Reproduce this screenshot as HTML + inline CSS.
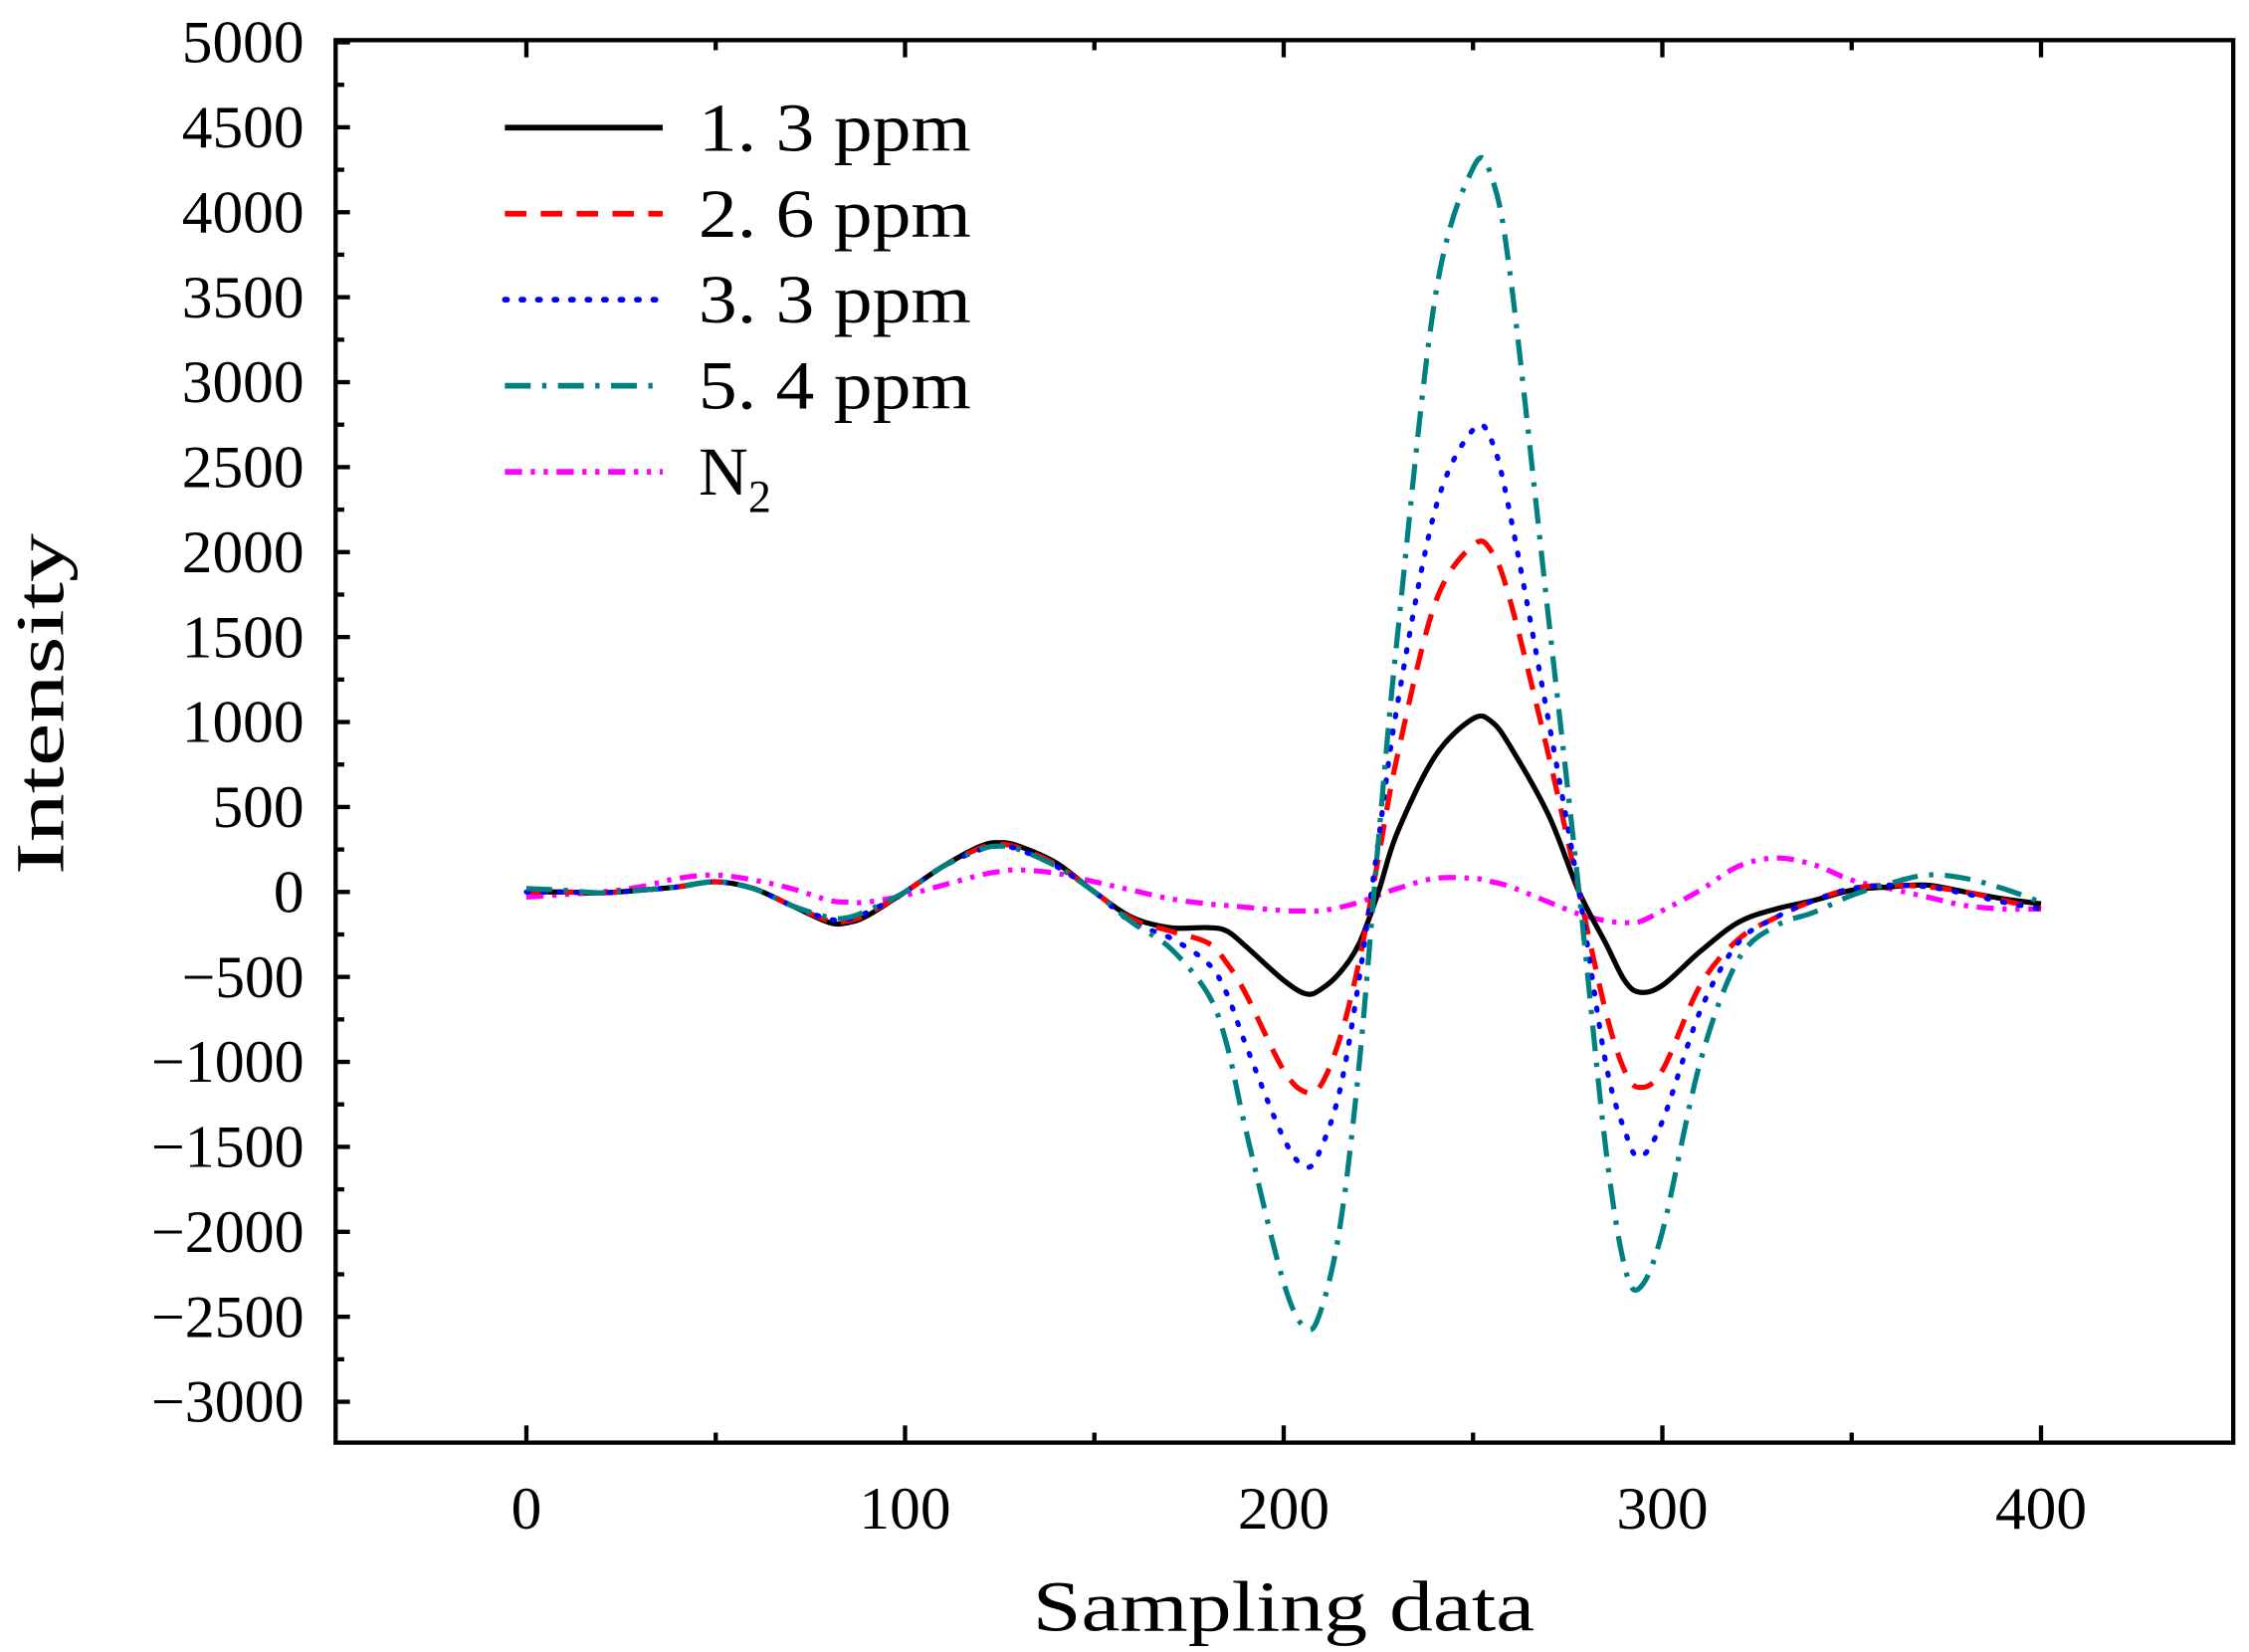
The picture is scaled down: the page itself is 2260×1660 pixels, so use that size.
<!DOCTYPE html>
<html><head><meta charset="utf-8"><style>html,body{margin:0;padding:0;background:#fff}svg{display:block}</style></head>
<body>
<svg id="chart" width="2260" height="1660" viewBox="0 0 1568 1152" preserveAspectRatio="none" xmlns="http://www.w3.org/2000/svg" font-family="'Liberation Serif','Noto Serif CJK SC',serif">
<g id="axes"></g><g id="series"></g><g id="legend"></g>
</svg>
<script>
const xs = [0,10,20,30,40,50,60,70,80,85,90,100,110,120,125,130,140,150,160,170,180,185,190,200,206,210,215,220,225,230,240,250,255,260,270,278,285,290,294,300,310,320,330,340,350,360,370,380,390,400];
const s13 = [0,0,-5,10,30,60,20,-80,-180,-180,-140,0,150,270,290,270,170,0,-150,-210,-210,-230,-320,-520,-600,-570,-470,-300,0,350,800,1020,1000,850,450,0,-300,-520,-590,-550,-350,-180,-100,-50,10,30,40,0,-40,-70];
const s26 = [0,0,-5,10,30,60,20,-80,-170,-170,-130,0,150,260,280,260,160,0,-160,-230,-300,-420,-600,-1050,-1180,-1130,-850,-400,200,800,1700,2040,2000,1700,800,0,-700,-1050,-1150,-1050,-550,-280,-150,-50,20,40,30,0,-50,-100];
const s33 = [0,0,-5,10,30,60,20,-80,-160,-160,-120,0,150,250,270,250,150,0,-180,-270,-420,-600,-900,-1450,-1620,-1500,-1150,-500,300,1100,2250,2720,2650,2200,1000,0,-1000,-1400,-1560,-1350,-700,-300,-150,-50,20,40,30,-10,-60,-100];
const s54 = [20,10,-5,10,30,60,20,-80,-150,-150,-110,0,150,250,270,250,150,0,-180,-330,-600,-900,-1400,-2300,-2570,-2450,-1950,-1000,300,1500,3500,4260,4200,3600,1600,0,-1500,-2200,-2330,-2000,-1000,-400,-200,-120,-20,50,100,80,20,-60];
const sN2 = [-30,-15,0,30,80,100,70,20,-50,-60,-60,-20,40,100,120,130,110,60,10,-40,-70,-80,-90,-110,-112,-110,-90,-60,-20,20,80,80,60,30,-60,-130,-170,-180,-175,-110,10,150,200,160,70,20,-30,-80,-100,-100];
const yTicks = [5000,4500,4000,3500,3000,2500,2000,1500,1000,500,0,-500,-1000,-1500,-2000,-2500,-3000];
const xTicks = [0,100,200,300,400];
const seriesNames = ["1. 3 ppm","2. 6 ppm","3. 3 ppm","5. 4 ppm","N2"];

const L=234,R=1557,T=28,B=1006;
const X = v => 367 + v*2.64;
const Y = v => 622 - v*0.1185;
const NS="http://www.w3.org/2000/svg";
function mk(tag, attrs, parent){const e=document.createElementNS(NS,tag);for(const k in attrs)e.setAttribute(k,attrs[k]);parent.appendChild(e);return e;}
const axes=document.getElementById('axes');
const frame=mk('rect',{x:L,y:T,width:R-L,height:B-T,fill:'none',stroke:'#000','stroke-width':3},axes);


for(let v=-3000;v<=5000;v+=250){
  const major=v%500===0, len=major?10:6, y=Y(v);
  const t=mk('line',{x1:L,x2:L+len,y1:y,y2:y,stroke:'#000','stroke-width':3},axes);
  
  
}
yTicks.forEach(v=>{
  const s=(v<0?'\u2212'+(-v):String(v));
  const w=s.length*21.3;
  const t=mk('text',{x:212,y:Y(v)+14,'text-anchor':'end','font-size':42,textLength:w,lengthAdjust:'spacingAndGlyphs'},axes);
  t.textContent=s;
  
  
});
for(let v=0;v<=400;v+=50){
  const major=v%100===0,len=major?12:7,x=X(v);
  const t=mk('line',{x1:x,x2:x,y1:B,y2:B-len,stroke:'#000','stroke-width':3},axes);
  
  
  const t2=mk('line',{x1:x,x2:x,y1:T,y2:T+len,stroke:'#000','stroke-width':3},axes);
  
  
}
xTicks.forEach(v=>{
  const s=String(v);
  const t=mk('text',{x:X(v),y:1066,'text-anchor':'middle','font-size':42,textLength:s.length*21.3,lengthAdjust:'spacingAndGlyphs'},axes);
  t.textContent=s;
  
  
});
const xt=mk('text',{x:895,y:1137,'text-anchor':'middle','font-size':50,textLength:350,lengthAdjust:'spacingAndGlyphs'},axes);
xt.textContent='Sampling data';


const yt=mk('text',{x:0,y:0,'text-anchor':'middle','font-size':48,textLength:238,lengthAdjust:'spacingAndGlyphs',transform:'translate(44,491) rotate(-90)'},axes);
yt.textContent='Intensity';



function pathFor(vals){
  const p=xs.map((x,i)=>[X(x),Y(vals[i])]);
  let d='M'+p[0][0]+','+p[0][1];
  for(let i=0;i<p.length-1;i++){
    const p0=p[Math.max(0,i-1)],p1=p[i],p2=p[i+1],p3=p[Math.min(p.length-1,i+2)];
    const c1=[p1[0]+(p2[0]-p0[0])/6,p1[1]+(p2[1]-p0[1])/6];
    const c2=[p2[0]-(p3[0]-p1[0])/6,p2[1]-(p3[1]-p1[1])/6];
    d+=' C'+c1.join(',')+' '+c2.join(',')+' '+p2.join(',');
  }
  return d;
}
const styles=[
  {c:'#000',da:'none',lc:'butt'},
  {c:'#ff0000',da:'15,10',lc:'butt'},
  {c:'#0000ff',da:'1.5,10',lc:'round'},
  {c:'#008080',da:'18,8,3,8',lc:'butt'},
  {c:'#ff00ff',da:'12,6,3,6,3,6',lc:'butt'}
];
const data=[s13,s26,s33,s54,sN2];
const names=['series-1-3-ppm','series-2-6-ppm','series-3-3-ppm','series-5-4-ppm','series-n2'];
const sg=document.getElementById('series');
[4,0,1,2,3].forEach(i=>{
  const st=styles[i];
  const p=mk('path',{d:pathFor(data[i]),fill:'none',stroke:st.c,'stroke-width':3.6,'stroke-dasharray':st.da,'stroke-linecap':st.lc,'stroke-linejoin':'round'},sg);
  
  
});
const lg=document.getElementById('legend');
seriesNames.forEach((n,i)=>{
  const y=89+i*60, st=styles[i];
  const ln=mk('line',{x1:352,x2:462,y1:y,y2:y,stroke:st.c,'stroke-width':4,'stroke-dasharray':st.da,'stroke-linecap':st.lc},lg);
  
  
  const t=mk('text',{x:487,y:y+16,'font-size':48},lg);
  t.setAttribute('xml:space','preserve');
  if(n==='N2'){
    t.textContent='N';
    const sub=mk('tspan',{'font-size':32,dy:12},t);
    sub.textContent='2';
  } else {
    t.textContent=n.replace(' ppm','  ppm');
    t.setAttribute('textLength',190);
    t.setAttribute('lengthAdjust','spacingAndGlyphs');
  }
  
  
});
</script>
</body></html>
